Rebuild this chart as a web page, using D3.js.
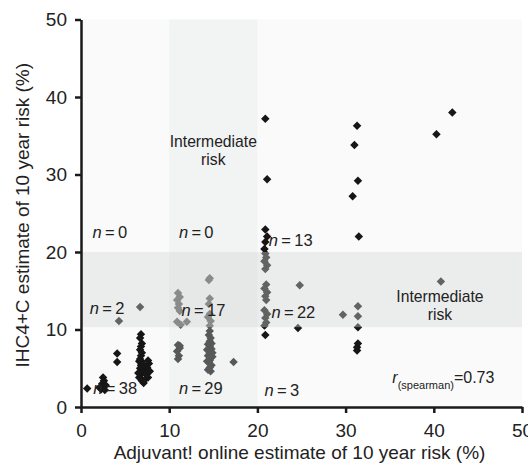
<!DOCTYPE html>
<html>
<head>
<meta charset="utf-8">
<script src="https://cdn.jsdelivr.net/npm/d3@7"></script>
<style>
  body { margin: 0; background: #fff; }
  svg { font-family: "Liberation Sans", Arial, sans-serif; }
</style>
</head>
<body>
<svg id="chart" width="528" height="465"></svg>
<script>
// Adjuvant! online estimate (x) and IHC4+C estimate (y), one entry per patient
const adjuvantRisk = [
  // lower left (x<10, y<10)
  0.7, 2.5, 2.6, 2.4, 2.5, 2.3, 2.7, 2.1, 2.8, 4.1, 4.1,
  6.8, 6.7, 6.9, 6.8, 6.7, 6.9, 6.8, 6.7, 6.9, 6.8, 6.7, 6.9, 6.8, 6.6, 6.9, 7.1, 6.5, 7.3, 7.6, 7.7, 7.5, 7.8, 7.4, 7.6, 7.2, 7.0, 6.6,
  // x<10, y 10-20
  6.7, 4.3,
  // x 10-20, y 10-20
  11.0, 11.2, 10.9, 11.1, 11.0, 11.2, 10.9, 11.3, 12.0,
  14.6, 14.5, 14.6, 14.5, 14.6, 14.4, 14.7, 14.6,
  // x 10-20, y<10
  11.0, 11.2, 10.9, 11.1, 11.0, 11.2,
  14.6, 14.5, 14.7, 14.6, 14.4, 14.6, 14.8, 14.5, 14.6, 14.4, 14.7, 14.6, 14.5, 14.8, 14.6, 14.4, 14.7, 14.9, 14.3, 14.8, 14.3, 14.9,
  17.3,
  // x>20, y>20
  20.9, 21.1, 20.9, 21.1, 20.8, 20.9, 31.3, 31.0, 31.4, 30.8, 31.5, 40.3, 42.1,
  // x>20, y 10-20
  20.9, 21.0, 20.8, 21.1, 20.9, 21.0, 20.8, 21.1, 20.9, 21.0, 20.8, 21.1, 20.9, 21.0, 20.8,
  24.8, 24.6, 29.7, 31.4, 31.4, 31.4, 40.8,
  // x>20, y<10
  20.9, 31.4, 31.3, 31.3
];
const ihc4Risk = [
  2.4, 3.8, 3.4, 3.0, 2.6, 2.3, 2.2, 2.5, 2.8, 6.9, 5.8,
  9.4, 8.9, 8.2, 7.8, 7.4, 7.0, 6.6, 6.2, 5.8, 5.4, 5.0, 4.6, 4.2, 3.8, 3.4, 3.1, 4.4, 4.9, 6.0, 5.6, 5.1, 4.6, 4.2, 3.8, 3.5, 5.5, 5.9,
  12.9, 11.1,
  14.7, 14.2, 13.8, 13.3, 12.8, 12.4, 11.0, 10.6, 11.0,
  16.6, 16.4, 14.0, 13.3, 12.0, 11.6, 11.1, 10.5,
  8.0, 7.6, 7.2, 6.6, 6.2, 7.9,
  9.8, 9.3, 8.9, 8.5, 8.1, 7.8, 7.5, 7.2, 6.9, 6.6, 6.3, 6.0, 5.7, 5.4, 5.1, 4.8, 4.6, 7.0, 7.4, 8.2, 5.9, 6.5,
  5.8,
  37.2, 29.4, 22.9, 22.0, 20.4, 21.3, 36.3, 33.8, 29.2, 27.2, 22.0, 35.2, 38.0,
  19.8, 19.3, 18.8, 18.3, 17.8, 15.8, 15.3, 14.8, 14.3, 13.8, 12.5, 12.0, 11.5, 10.9, 10.5,
  15.7, 10.2, 11.9, 13.0, 11.7, 10.3, 16.2,
  9.3, 8.2, 7.7, 7.3
];

const xTicks = [0, 10, 20, 30, 40, 50];
const yTicks = [0, 10, 20, 30, 40, 50];

// shaded "intermediate risk" zones
const verticalBand = [10, 20];
const horizontalBand = [10.3, 20];

// group counts, anchored in data units
const countLabels = ['0', '0', '13', '2', '17', '22', '38', '29', '3'];
const countX = [1.3, 11.1, 21.3, 1.0, 11.4, 21.6, 1.4, 11.1, 20.8];
const countY = [21.8, 21.8, 20.8, 12.0, 11.7, 11.5, 1.7, 1.7, 1.4];

const svg = d3.select('#chart');
const margin = { top: 19.5, right: 6, bottom: 58, left: 81 };
const width = 528 - margin.left - margin.right;
const height = 465 - margin.top - margin.bottom;

const x = d3.scaleLinear().domain([0, 50]).range([0, width]);
const y = d3.scaleLinear().domain([0, 50]).range([height, 0]);

const g = svg.append('g')
  .attr('transform', `translate(${margin.left},${margin.top})`);

// plot background
g.append('rect')
  .attr('x', 0).attr('y', 0)
  .attr('width', width).attr('height', height)
  .attr('fill', '#fafafa');

// points (drawn under the translucent bands)
const points = adjuvantRisk.map((v, i) => ({ x: v, y: ihc4Risk[i] }));
const diamond = d3.symbol().type(d3.symbolSquare).size(36);
g.append('g')
  .selectAll('path')
  .data(points)
  .enter()
  .append('path')
  .attr('d', diamond)
  .attr('transform', d => `translate(${x(d.x)},${y(d.y)}) rotate(45)`)
  .attr('fill', '#161616');

// vertical band 10-20 on the x axis
g.append('rect')
  .attr('x', x(verticalBand[0]))
  .attr('y', 0)
  .attr('width', x(verticalBand[1]) - x(verticalBand[0]))
  .attr('height', height)
  .attr('fill', 'rgb(228,230,230)')
  .attr('fill-opacity', 0.32);

// horizontal band 10-20 on the y axis
g.append('rect')
  .attr('x', 0)
  .attr('y', y(horizontalBand[1]))
  .attr('width', width)
  .attr('height', y(horizontalBand[0]) - y(horizontalBand[1]))
  .attr('fill', 'rgb(212,214,214)')
  .attr('fill-opacity', 0.4);

// axes
const xAxis = g.append('g')
  .attr('transform', `translate(0,${height})`)
  .call(d3.axisBottom(x).tickValues(xTicks).tickSize(6).tickSizeOuter(0).tickPadding(11));
const yAxis = g.append('g')
  .call(d3.axisLeft(y).tickValues(yTicks).tickSize(6).tickSizeOuter(0).tickPadding(8));

[xAxis, yAxis].forEach(a => {
  a.select('.domain').attr('stroke', '#1a1a1a').attr('stroke-width', 2.5);
  a.selectAll('.tick line').attr('stroke', '#1a1a1a').attr('stroke-width', 2.5);
  a.selectAll('.tick text')
    .attr('fill', '#222')
    .style('font-size', '19px')
    .style('font-family', '"Liberation Sans", Arial, sans-serif');
});

// count labels
const nText = g.append('g')
  .selectAll('text')
  .data(countLabels)
  .enter()
  .append('text')
  .attr('x', (d, i) => x(countX[i]))
  .attr('y', (d, i) => y(countY[i]))
  .attr('fill', '#222')
  .style('font-size', '16.5px');
nText.append('tspan').style('font-style', 'italic').text('n');
nText.append('tspan').text(d => '\u2009=\u2009' + d);

// "Intermediate risk" labels
function riskLabel(cx, cy) {
  const t = g.append('text')
    .attr('x', x(cx))
    .attr('y', y(cy))
    .attr('text-anchor', 'middle')
    .attr('fill', '#222')
    .style('font-size', '15.7px');
  t.append('tspan').attr('x', x(cx)).text('Intermediate');
  t.append('tspan').attr('x', x(cx)).attr('dy', '1.15em').text('risk');
}
riskLabel(15, 33.5);
riskLabel(40.7, 13.6);

// spearman correlation
const rText = g.append('text')
  .attr('x', x(35.3))
  .attr('y', y(3.1))
  .attr('fill', '#222')
  .style('font-size', '16px');
rText.append('tspan').style('font-style', 'italic').text('r');
rText.append('tspan').attr('dy', 6).style('font-size', '11px').text('(spearman)');
rText.append('tspan').attr('dy', -6).text('=0.73');

// axis titles
svg.append('text')
  .attr('x', margin.left + width / 2 - 2)
  .attr('y', 459)
  .attr('text-anchor', 'middle')
  .attr('fill', '#222')
  .style('font-size', '19px')
  .text('Adjuvant! online estimate of 10 year risk (%)');

svg.append('text')
  .attr('transform', `translate(29,${margin.top + height / 2 + 2}) rotate(-90)`)
  .attr('text-anchor', 'middle')
  .attr('fill', '#222')
  .style('font-size', '19px')
  .text('IHC4+C estimate of 10 year risk (%)');
</script>
</body>
</html>
